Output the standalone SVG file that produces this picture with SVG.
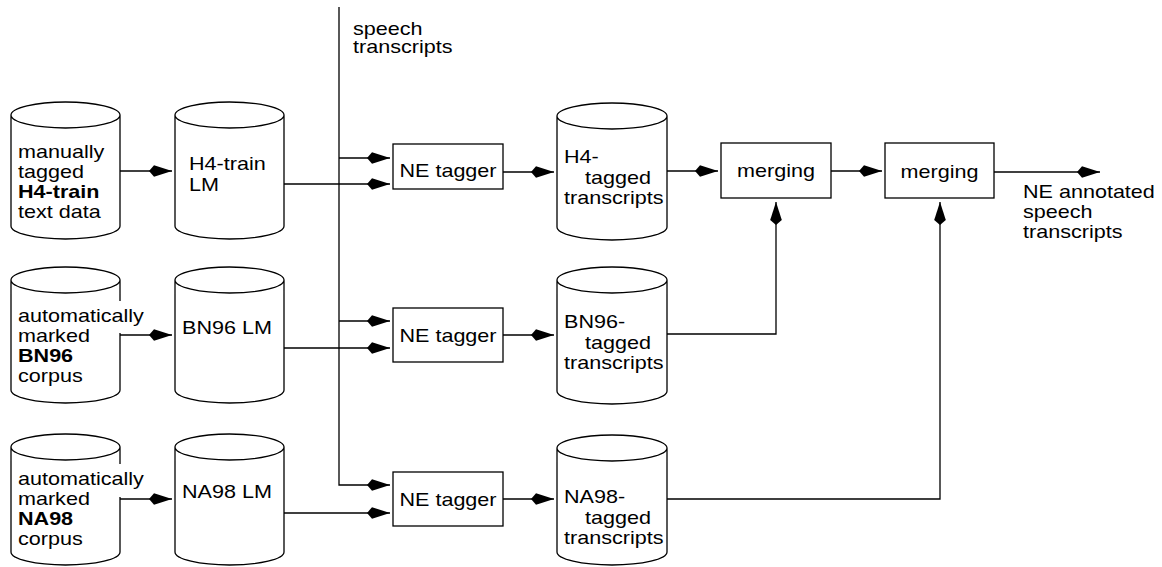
<svg xmlns="http://www.w3.org/2000/svg" width="1162" height="567" viewBox="0 0 1162 567">
<style>
.cyl{fill:#fff;stroke:#000;stroke-width:1.3}
.box{fill:#fff;stroke:#000;stroke-width:1.3}
.ln{fill:none;stroke:#000;stroke-width:1.3}
text{font-family:"Liberation Sans",Arial,Helvetica,sans-serif;font-size:18.6px;fill:#000}
.b{font-weight:bold}
.m{text-anchor:middle}
</style>
<defs>
<marker id="ah" markerUnits="userSpaceOnUse" markerWidth="25" markerHeight="14" refX="23" refY="7" orient="auto">
<path d="M0,7 L5,1.2 L23,7 L5,12.8 Z" fill="#000"/>
</marker>
</defs>
<g id="connectors">
<path class="ln" d="M339,7 V485 H390" marker-end="url(#ah)"/>
<path class="ln" d="M339,158 H390" marker-end="url(#ah)"/>
<path class="ln" d="M339,321 H390" marker-end="url(#ah)"/>
<path class="ln" d="M120,171 H172" marker-end="url(#ah)"/>
<path class="ln" d="M284,184 H390" marker-end="url(#ah)"/>
<path class="ln" d="M503,172 H554" marker-end="url(#ah)"/>
<path class="ln" d="M667,171 H718" marker-end="url(#ah)"/>
<path class="ln" d="M831,171 H882" marker-end="url(#ah)"/>
<path class="ln" d="M994,172 H1100" marker-end="url(#ah)"/>
<path class="ln" d="M120,335 H172" marker-end="url(#ah)"/>
<path class="ln" d="M284,348 H390" marker-end="url(#ah)"/>
<path class="ln" d="M503,335 H554" marker-end="url(#ah)"/>
<path class="ln" d="M667,334 H776 V202" marker-end="url(#ah)"/>
<path class="ln" d="M120,499 H172" marker-end="url(#ah)"/>
<path class="ln" d="M284,513 H390" marker-end="url(#ah)"/>
<path class="ln" d="M503,499 H554" marker-end="url(#ah)"/>
<path class="ln" d="M667,499 H940 V202" marker-end="url(#ah)"/>
</g>
<g id="label-speech">
<text transform="translate(353,35) scale(1.16,1)">speech</text>
<text transform="translate(353,53) scale(1.16,1)">transcripts</text>
</g>
<g id="h4-text-data">
<path class="cyl" d="M11,115 A54.5,13 0 0 1 120,115 A54.5,13 0 0 1 11,115 V226 A54.5,13 0 0 0 120,226 V115"/>
<text transform="translate(18,158) scale(1.16,1)">manually</text>
<text transform="translate(18,178) scale(1.16,1)">tagged</text>
<text class="b" transform="translate(18,198) scale(1.16,1)">H4-train</text>
<text transform="translate(18,218) scale(1.16,1)">text data</text>
</g>
<g id="h4-lm">
<path class="cyl" d="M175,115 A54.5,13 0 0 1 284,115 A54.5,13 0 0 1 175,115 V226 A54.5,13 0 0 0 284,226 V115"/>
<text transform="translate(189,170) scale(1.16,1)">H4-train</text>
<text transform="translate(189,191) scale(1.16,1)">LM</text>
</g>
<g id="bn96-corpus">
<path class="cyl" d="M11,280 A54.5,13 0 0 1 120,280 A54.5,13 0 0 1 11,280 V390 A54.5,13 0 0 0 120,390 V280"/>
<rect x="116" y="301" width="30" height="32" fill="#fff"/>
<text transform="translate(18,322) scale(1.16,1)">automatically</text>
<text transform="translate(18,342) scale(1.16,1)">marked</text>
<text class="b" transform="translate(18,362) scale(1.16,1)">BN96</text>
<text transform="translate(18,382) scale(1.16,1)">corpus</text>
</g>
<g id="bn96-lm">
<path class="cyl" d="M175,280 A54.5,13 0 0 1 284,280 A54.5,13 0 0 1 175,280 V390 A54.5,13 0 0 0 284,390 V280"/>
<text transform="translate(182,334) scale(1.16,1)">BN96 LM</text>
</g>
<g id="na98-corpus">
<path class="cyl" d="M11,447 A54.5,13 0 0 1 120,447 A54.5,13 0 0 1 11,447 V552 A54.5,13 0 0 0 120,552 V447"/>
<rect x="116" y="464" width="30" height="33" fill="#fff"/>
<text transform="translate(18,485) scale(1.16,1)">automatically</text>
<text transform="translate(18,505) scale(1.16,1)">marked</text>
<text class="b" transform="translate(18,525) scale(1.16,1)">NA98</text>
<text transform="translate(18,545) scale(1.16,1)">corpus</text>
</g>
<g id="na98-lm">
<path class="cyl" d="M175,447 A54.5,13 0 0 1 284,447 A54.5,13 0 0 1 175,447 V552 A54.5,13 0 0 0 284,552 V447"/>
<text transform="translate(182,498) scale(1.16,1)">NA98 LM</text>
</g>
<g id="ne-tagger-1">
<rect class="box" x="393" y="144" width="110" height="45"/>
<text class="m" transform="translate(448,177) scale(1.16,1)">NE tagger</text>
</g>
<g id="ne-tagger-2">
<rect class="box" x="393" y="308" width="110" height="54"/>
<text class="m" transform="translate(448,342) scale(1.16,1)">NE tagger</text>
</g>
<g id="ne-tagger-3">
<rect class="box" x="393" y="472" width="110" height="54"/>
<text class="m" transform="translate(448,506) scale(1.16,1)">NE tagger</text>
</g>
<g id="h4-tagged">
<path class="cyl" d="M557,116 A55,13 0 0 1 667,116 A55,13 0 0 1 557,116 V227 A55,13 0 0 0 667,227 V116"/>
<text transform="translate(564,163) scale(1.16,1)">H4-</text>
<text transform="translate(585,184) scale(1.16,1)">tagged</text>
<text transform="translate(564,204) scale(1.16,1)">transcripts</text>
</g>
<g id="bn96-tagged">
<path class="cyl" d="M557,280 A55,13 0 0 1 667,280 A55,13 0 0 1 557,280 V391 A55,13 0 0 0 667,391 V280"/>
<text transform="translate(564,328) scale(1.16,1)">BN96-</text>
<text transform="translate(585,349) scale(1.16,1)">tagged</text>
<text transform="translate(564,369) scale(1.16,1)">transcripts</text>
</g>
<g id="na98-tagged">
<path class="cyl" d="M557,448 A55,13 0 0 1 667,448 A55,13 0 0 1 557,448 V552 A55,13 0 0 0 667,552 V448"/>
<text transform="translate(564,503) scale(1.16,1)">NA98-</text>
<text transform="translate(585,524) scale(1.16,1)">tagged</text>
<text transform="translate(564,544) scale(1.16,1)">transcripts</text>
</g>
<g id="merging-1">
<rect class="box" x="721" y="143" width="110" height="55"/>
<text class="m" transform="translate(776,177) scale(1.16,1)">merging</text>
</g>
<g id="merging-2">
<rect class="box" x="885" y="143" width="109" height="55"/>
<text class="m" transform="translate(939.5,178) scale(1.16,1)">merging</text>
</g>
<g id="label-output">
<text transform="translate(1023,198) scale(1.16,1)">NE annotated</text>
<text transform="translate(1023,218) scale(1.16,1)">speech</text>
<text transform="translate(1023,238) scale(1.16,1)">transcripts</text>
</g>
</svg>
